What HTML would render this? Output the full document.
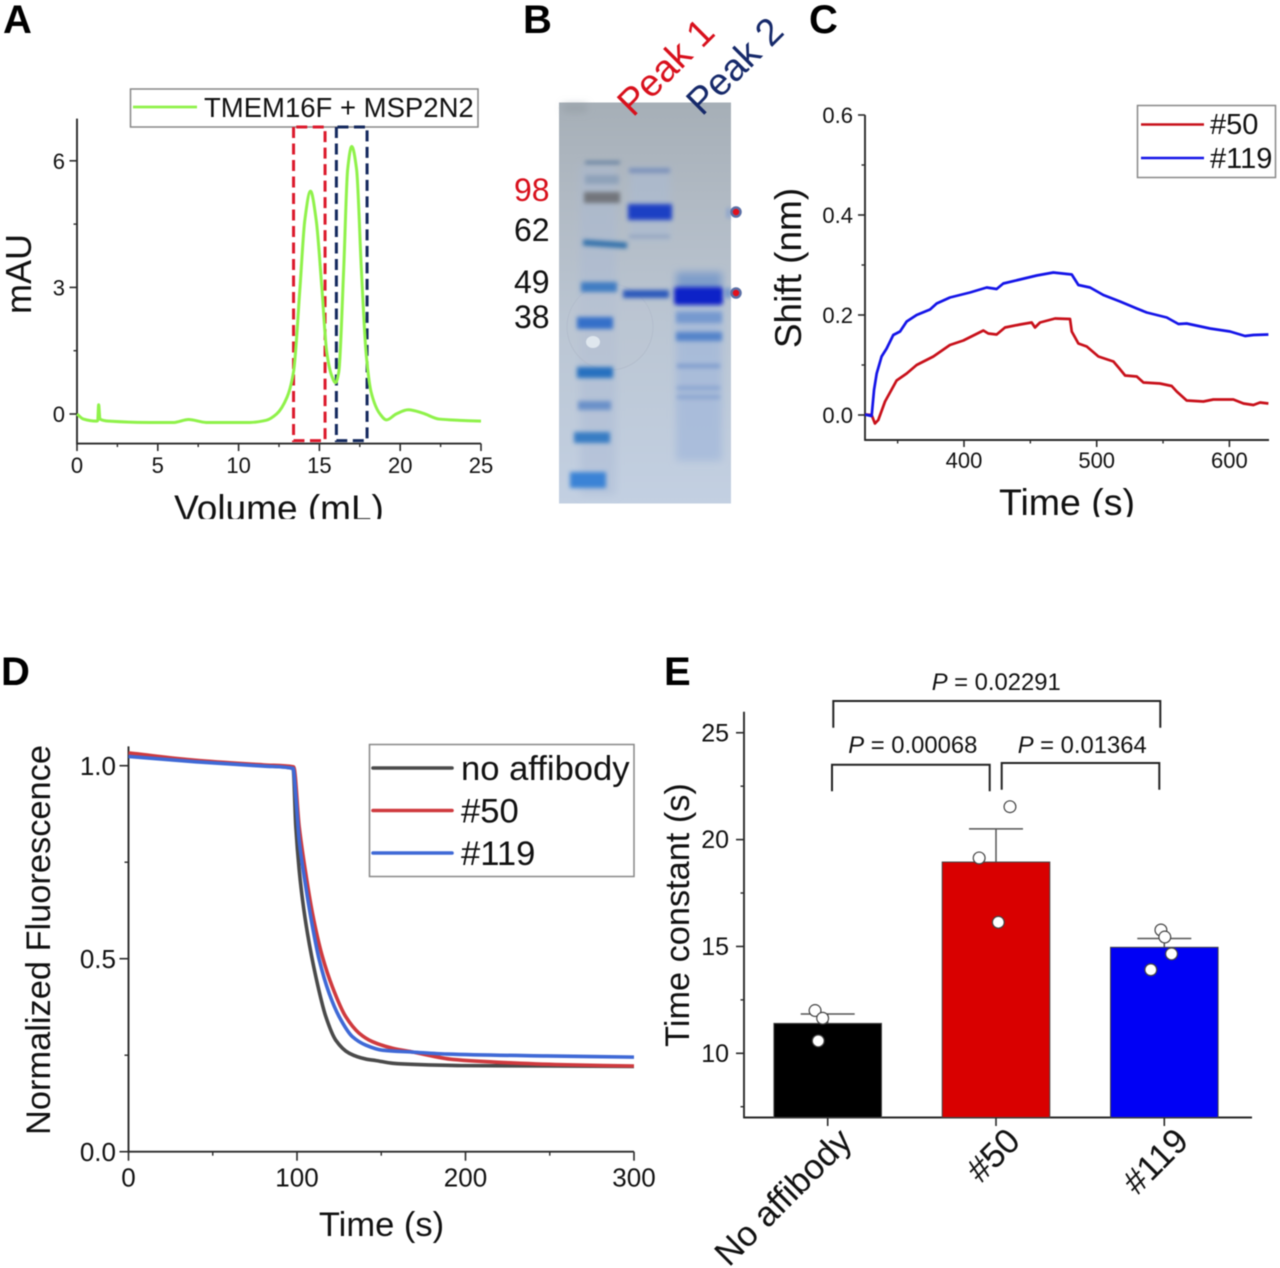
<!DOCTYPE html>
<html lang="en">
<head>
<meta charset="utf-8">
<title>TMEM16F affibody characterisation figure</title>
<style>
html,body{margin:0;padding:0;background:#fff;}
body{width:1280px;height:1268px;overflow:hidden;}
svg{display:block;filter:blur(.4px);}
text{font-family:"Liberation Sans",Arial,sans-serif;fill:#111;}
.panel{font-weight:bold;font-size:40px;fill:#000;}
</style>
</head>
<body>
<svg id="figure" xmlns="http://www.w3.org/2000/svg" width="1280" height="1268" viewBox="0 0 1280 1268">
<defs>
<linearGradient id="gelBg" x1="0" y1="0" x2="0" y2="1">
<stop offset="0" stop-color="#a6afb7"/>
<stop offset=".25" stop-color="#b1bac4"/>
<stop offset=".55" stop-color="#bbc6d3"/>
<stop offset="1" stop-color="#c3d0e2"/>
</linearGradient>
<filter id="soft" x="-20%" y="-150%" width="140%" height="400%"><feGaussianBlur stdDeviation="2"/></filter>
<filter id="softer" x="-20%" y="-50%" width="140%" height="200%"><feGaussianBlur stdDeviation="4"/></filter>
</defs>

<text class="panel" x="3" y="33">A</text>
<text class="panel" x="523" y="33">B</text>
<text class="panel" x="809" y="33">C</text>
<text class="panel" x="1" y="685">D</text>
<text class="panel" x="664" y="685">E</text>

<g id="panelA">
<text font-size="36" text-anchor="middle" transform="translate(31 274) rotate(-90)">mAU</text>
<text font-size="37" text-anchor="middle" x="279" y="521">Volume (mL)</text>
<rect x="150" y="519" width="260" height="14" fill="#fff"/>
<rect x="130.5" y="89" width="347.5" height="38" fill="#fff" stroke="#888" stroke-width="1.5"/>
<line x1="133" y1="107" x2="197" y2="107" stroke="#8ff24a" stroke-width="2.8"/>
<text font-size="27.5" x="204" y="117">TMEM16F + MSP2N2</text>
</g>

<g id="panelB">
<rect x="559" y="102.5" width="172" height="401" fill="url(#gelBg)"/>
<g filter="url(#softer)">
<rect x="676" y="306" width="46" height="155" fill="#9fb6da" opacity=".7"/>
<rect x="630" y="168" width="40" height="72" fill="#a9b9d3" opacity=".55"/>
<rect x="676" y="272" width="46" height="20" fill="#6f93c9" opacity=".8"/>
<rect x="580" y="165" width="36" height="330" fill="#a8b9d2" opacity=".45"/>
<rect x="563" y="104" width="24" height="8" fill="#8d969d" opacity=".5"/>
</g>
<circle cx="610" cy="327" r="43" fill="#bcc6d3" fill-opacity=".45" stroke="#b3bdcc" stroke-width="1"/>
<ellipse cx="593" cy="342" rx="7" ry="6" fill="#dfe7ee"/>
<g filter="url(#soft)">
<rect x="585" y="161" width="35" height="3" fill="#5f7b9d"/>
<rect x="585" y="175" width="34" height="9" fill="#8fa2b9"/>
<rect x="584" y="192" width="36" height="11" fill="#72767c"/>
<rect x="583" y="241" width="44" height="6" fill="#3271ab" transform="rotate(4 605 245)"/>
<rect x="581" y="282" width="36" height="10" fill="#407dc3"/>
<rect x="577" y="317" width="36" height="12" fill="#3470c9"/>
<rect x="577" y="367" width="36" height="11" fill="#2771c0"/>
<rect x="578" y="401" width="33" height="9" fill="#6a91c9"/>
<rect x="574" y="432" width="36" height="11" fill="#397dc4"/>
<rect x="570" y="472" width="36" height="16" fill="#3a83d6"/>
</g>
<g filter="url(#soft)">
<rect x="629" y="168" width="41" height="5" fill="#7b91ba"/>
<rect x="628" y="204" width="44" height="16" fill="#1b40c4"/>
<rect x="629" y="235" width="41" height="3" fill="#90a3c0"/>
<rect x="623" y="290" width="46" height="8" fill="#2c59bb"/>
</g>
<g filter="url(#soft)">
<rect x="674" y="287" width="49" height="18" rx="3" fill="#0c22c8"/>
<rect x="676" y="312" width="46" height="11" fill="#7699cf"/>
<rect x="676" y="332" width="46" height="9" fill="#5584ca"/>
<rect x="677" y="364" width="43" height="4" fill="#7d9bcd"/>
<rect x="677" y="386" width="43" height="4" fill="#8ba6d0"/>
<rect x="677" y="395" width="43" height="4" fill="#8ba6d0"/>
<rect x="726" y="288" width="4" height="10" fill="#5a85ca"/>
<rect x="727" y="208" width="3" height="10" fill="#7d9ad0"/>
</g>
<circle cx="736" cy="212" r="4.5" fill="#e3101c" stroke="#5b70a6" stroke-width="2.5"/>
<circle cx="736" cy="293" r="4.5" fill="#e3101c" stroke="#5b70a6" stroke-width="2.5"/>
<text font-size="32" x="514" y="201" style="fill:#d8101c">98</text>
<text font-size="32" x="514" y="241">62</text>
<text font-size="32" x="514" y="293">49</text>
<text font-size="32" x="514" y="328">38</text>
<text font-size="38" transform="translate(633 118) rotate(-45)" style="fill:#d8101c">Peak 1</text>
<text font-size="38" transform="translate(702 117) rotate(-45)" style="fill:#16296a">Peak 2</text>
</g>

<g id="panelC">
<text font-size="37" text-anchor="middle" transform="translate(801 268) rotate(-90)">Shift (nm)</text>
<text font-size="37.5" text-anchor="middle" x="1067" y="515">Time (s)</text>
<rect x="990" y="517" width="160" height="12" fill="#fff"/>
<rect x="1137.5" y="105.5" width="138" height="72" fill="#fff" stroke="#888" stroke-width="1.5"/>
<line x1="1141" y1="124.5" x2="1204" y2="124.5" stroke="#c8101a" stroke-width="2.4"/>
<text font-size="29" x="1210" y="134">#50</text>
<line x1="1141" y1="158" x2="1204" y2="158" stroke="#1414e8" stroke-width="2.4"/>
<text font-size="29" x="1210" y="168">#119</text>
</g>

<g id="panelD">
<text font-size="34.4" text-anchor="middle" transform="translate(50 940) rotate(-90)">Normalized Fluorescence</text>
<text font-size="34.5" text-anchor="middle" x="381.5" y="1236">Time (s)</text>
</g>

<g id="panelE">
<text font-size="34.3" text-anchor="middle" transform="translate(689 915) rotate(-90)">Time constant (s)</text>
</g>

<script>
const SVG_NS = 'http://www.w3.org/2000/svg';

/* ---------- Panel A data ---------- */
const aVolumes = [0,0.4,1.2,1.28,1.34,1.42,2,4.5,6,6.9,8,10.7,11.7,12.35,13,13.4,13.8,14.1,14.45,14.8,15.15,15.45,15.75,16,16.2,16.5,16.75,17,17.3,17.6,17.9,18.2,18.75,19.15,19.75,20.5,21.4,22.4,23.7,25];
const aAbsorbance = [0,-0.12,-0.17,-0.16,0.22,-0.12,-0.17,-0.2,-0.2,-0.13,-0.2,-0.2,-0.15,0,0.4,1,3,4.6,5.28,4.6,3,1.48,0.92,0.74,1,3.4,5.8,6.34,5.8,3.4,1.4,0.52,0,-0.14,0,0.1,0.02,-0.12,-0.15,-0.17];
const aXTicks = [0,5,10,15,20,25];
const aXMinor = [2.5,7.5,12.5,17.5,22.5];
const aYTicks = [0,3,6];
const aYMinor = [1.5,4.5];
const aPeak1Window = [13.4,15.35];
const aPeak2Window = [16.05,17.95];

/* ---------- Panel C data ---------- */
const c119Times = [325.4,330.4,332.2,334.2,337.9,341.7,346.7,351.8,356.8,364.3,374.4,379.4,389.4,404.5,417.1,424.6,429.6,442.2,454.8,467.3,481.2,486.2,495,505,517.6,530.2,537.7,552.8,561.6,567.8,585.4,600.5,611.8,618.1,629.4];
const c119Shift = [0.001,-0.002,0.05,0.083,0.117,0.133,0.16,0.167,0.187,0.2,0.211,0.223,0.235,0.245,0.255,0.252,0.263,0.271,0.279,0.285,0.281,0.26,0.255,0.24,0.227,0.213,0.205,0.195,0.182,0.183,0.173,0.167,0.158,0.16,0.161];
const c50Times = [325.4,330.4,332.9,335.4,340.5,349.2,356.8,364.3,376.9,389.4,399.5,414.6,418.3,424.6,430.9,442.2,451,453.5,457.3,468.6,479.9,481.2,486.2,492.5,501.3,512.6,517.1,521.4,530.2,535.2,547.7,556.5,560.3,567.8,580.4,587.9,603,610.6,618.1,623.1,629.4];
const c50Shift = [0.001,0,-0.017,-0.01,0.027,0.069,0.083,0.1,0.117,0.14,0.149,0.169,0.163,0.161,0.175,0.181,0.185,0.175,0.185,0.193,0.192,0.167,0.143,0.137,0.117,0.107,0.093,0.079,0.077,0.065,0.063,0.058,0.047,0.029,0.027,0.031,0.031,0.023,0.02,0.025,0.023];
const cXTicks = [400,500,600];
const cXMinor = [350,450,550];
const cYTicks = ['0.0','0.2','0.4','0.6'];
const cYMinor = [0.1,0.3,0.5];

/* ---------- Panel D data ---------- */
const dControlTimes = [0,40,80,97.7,99.3,101.3,103.3,106.2,111.2,117.1,123,131,140.9,147,157,170,198,250,300];
const dControlValues = [1.028,1.012,1,0.993,0.842,0.73,0.652,0.566,0.453,0.35,0.289,0.255,0.24,0.236,0.229,0.226,0.223,0.222,0.221];
const d50Times = [0,40,80,98,101.3,105.2,109.2,115.1,121,128.9,136.9,144.8,156.7,169,192.6,228,260,300];
const d50Values = [1.033,1.014,1.002,0.997,0.842,0.721,0.617,0.505,0.427,0.35,0.307,0.285,0.268,0.258,0.239,0.23,0.225,0.222];
const d119Times = [0,40,80,97.7,99.3,101.3,105.2,109.2,113.2,119.1,125,132.9,140.9,150.7,169,189,248,300];
const d119Values = [1.024,1.01,0.999,0.993,0.92,0.807,0.687,0.583,0.497,0.41,0.35,0.298,0.276,0.263,0.258,0.253,0.248,0.245];
const dXTicks = [0,100,200,300];
const dXMinor = [50,150,250];
const dYTicks = ['0.0','0.5','1.0'];
const dYMinor = [0.25,0.75];
const dLegendNames = ['no affibody','#50','#119'];

/* ---------- Panel E data ---------- */
const eCategories = ['No affibody','#50','#119'];
const eMeans = [11.4,18.95,14.96];
const eErrorTops = [11.84,20.5,15.37];
const eScatter = [[12,11.64,10.58],[21.54,19.14,16.13],[15.77,15.44,14.65,13.91]];
const eScatterJitter = [[-0.075,-0.03,-0.056],[0.083,-0.1,0.014],[-0.02,0.003,0.043,-0.08]];
const eYTicks = [10,15,20,25];
const eYMinor = [7.5,12.5,17.5,22.5];
const eComparisons = ['0.02291','0.00068','0.01364'];

/* ---------- Axis functions ---------- */
const xA = v => 77 + v * (481 - 77) / 25;
const yA = v => 414 - v * 42.2;
const xC = v => 964 + (v - 400) * 1.327;
const yC = v => 415 - v * 500;
const xD = v => 128.5 + v * 1.685;
const yD = v => 1151.7 - v * 386;
const xE = i => 827.7 + i * 168.3;
const yE = v => 1053.3 - (v - 10) * 21.37;

function make(tag, parent, attrs) {
  const el = document.createElementNS(SVG_NS, tag);
  for (const k in attrs) el.setAttribute(k, attrs[k]);
  parent.appendChild(el);
  return el;
}

/* Monotone cubic interpolation: no overshoot at sharp knees or peaks */
function smoothPath(xs, ys, sx, sy) {
  const px = xs.map(sx), py = ys.map(sy), n = px.length;
  const dx = [], slope = [];
  for (let i = 0; i < n - 1; i++) {
    dx.push(px[i + 1] - px[i]);
    slope.push((py[i + 1] - py[i]) / dx[i]);
  }
  const m = [slope[0]];
  for (let i = 1; i < n - 1; i++) {
    if (slope[i - 1] * slope[i] <= 0) { m.push(0); continue; }
    const w1 = 2 * dx[i] + dx[i - 1], w2 = dx[i] + 2 * dx[i - 1];
    m.push((w1 + w2) / (w1 / slope[i - 1] + w2 / slope[i]));
  }
  m.push(slope[n - 2]);
  let d = 'M' + px[0].toFixed(2) + ' ' + py[0].toFixed(2);
  for (let i = 0; i < n - 1; i++) {
    const h = dx[i] / 3;
    d += 'C' + (px[i] + h).toFixed(2) + ' ' + (py[i] + m[i] * h).toFixed(2) + ' ' + (px[i + 1] - h).toFixed(2) + ' ' + (py[i + 1] - m[i + 1] * h).toFixed(2) + ' ' + px[i + 1].toFixed(2) + ' ' + py[i + 1].toFixed(2);
  }
  return d;
}

function linePath(xs, ys, sx, sy) {
  return xs.map((x, i) => (i ? 'L' : 'M') + sx(x).toFixed(2) + ' ' + sy(ys[i]).toFixed(2)).join('');
}

function drawAxes(group, prefix, cfg) {
  const xAxis = make('line', group, {x1: cfg.x0, y1: cfg.y0, x2: cfg.x1, y2: cfg.y0, stroke: '#2a2a2a', 'stroke-width': 1.9});
  
  
  const yAxis = make('line', group, {x1: cfg.x0, y1: cfg.y0 + 0.9, x2: cfg.x0, y2: cfg.y1, stroke: '#2a2a2a', 'stroke-width': 1.9});
  
  
  cfg.xTicks.forEach(v => {
    const px = cfg.sx(Number(v));
    const t = make('line', group, {x1: px, y1: cfg.y0, x2: px, y2: cfg.y0 + cfg.major, stroke: '#2a2a2a', 'stroke-width': 1.6});
    
    
    const l = make('text', group, {x: px, y: cfg.xLabelY, 'font-size': cfg.font, 'text-anchor': 'middle'});
    l.textContent = v;
    
    
  });
  cfg.xMinor.forEach(v => {
    const px = cfg.sx(v);
    const t = make('line', group, {x1: px, y1: cfg.y0, x2: px, y2: cfg.y0 + cfg.minor, stroke: '#2a2a2a', 'stroke-width': 1.4});
    
    
  });
  cfg.yTicks.forEach(v => {
    const py = cfg.sy(Number(v));
    const t = make('line', group, {x1: cfg.x0 - cfg.major, y1: py, x2: cfg.x0, y2: py, stroke: '#2a2a2a', 'stroke-width': 1.6});
    
    
    const l = make('text', group, {x: cfg.yLabelX, y: py + cfg.yLabelDy, 'font-size': cfg.font, 'text-anchor': 'end'});
    l.textContent = v;
    
    
  });
  cfg.yMinor.forEach(v => {
    const py = cfg.sy(v);
    const t = make('line', group, {x1: cfg.x0 - cfg.minor, y1: py, x2: cfg.x0, y2: py, stroke: '#2a2a2a', 'stroke-width': 1.4});
    
    
  });
}

/* ---------- Panel A ---------- */
const gA = document.getElementById('panelA');
drawAxes(gA, 'a', {x0: 77, x1: 481, y0: yA(-0.7), y1: yA(7), sx: xA, sy: yA, xTicks: aXTicks, xMinor: aXMinor, yTicks: aYTicks, yMinor: aYMinor, major: 7.5, minor: 3.5, font: 22, xLabelY: 473, yLabelX: 65, yLabelDy: 8});
const windowTop = 127;
const windowBottom = yA(-0.63);
const win1 = make('path', gA, {d: 'M' + xA(aPeak1Window[0]) + ' ' + windowTop + 'V' + windowBottom + 'H' + xA(aPeak1Window[1]) + 'V' + windowTop + 'H' + xA(aPeak1Window[0]), fill: 'none', stroke: '#dc1a2c', 'stroke-width': 3, 'stroke-dasharray': '11 5.5'});


const win2 = make('path', gA, {d: 'M' + xA(aPeak2Window[0]) + ' ' + windowTop + 'V' + windowBottom + 'H' + xA(aPeak2Window[1]) + 'V' + windowTop + 'H' + xA(aPeak2Window[0]), fill: 'none', stroke: '#14295e', 'stroke-width': 3, 'stroke-dasharray': '11 5.5'});


const aLine = make('path', gA, {d: smoothPath(aVolumes, aAbsorbance, xA, yA), fill: 'none', stroke: '#8ff24a', 'stroke-width': 3, 'stroke-linejoin': 'round'});



/* ---------- Panel C ---------- */
const gC = document.getElementById('panelC');
drawAxes(gC, 'c', {x0: 865, x1: 1269, y0: yC(-0.05), y1: yC(0.6), sx: xC, sy: yC, xTicks: cXTicks, xMinor: cXMinor, yTicks: cYTicks, yMinor: cYMinor, major: 7, minor: 3.5, font: 22, xLabelY: 468, yLabelX: 853, yLabelDy: 8});
const cLine50 = make('path', gC, {d: linePath(c50Times, c50Shift, xC, yC), fill: 'none', stroke: '#c8101a', 'stroke-width': 2.7, 'stroke-linejoin': 'round'});


const cLine119 = make('path', gC, {d: linePath(c119Times, c119Shift, xC, yC), fill: 'none', stroke: '#1414e8', 'stroke-width': 2.7, 'stroke-linejoin': 'round'});



/* ---------- Panel D ---------- */
const gD = document.getElementById('panelD');
drawAxes(gD, 'd', {x0: 128.5, x1: 634, y0: yD(0), y1: yD(1.05), sx: xD, sy: yD, xTicks: dXTicks, xMinor: dXMinor, yTicks: dYTicks, yMinor: dYMinor, major: 9, minor: 4, font: 26, xLabelY: 1186.5, yLabelX: 116, yLabelDy: 9.5});
const dLineControl = make('path', gD, {d: smoothPath(dControlTimes, dControlValues, xD, yD), fill: 'none', stroke: '#4a4a4a', 'stroke-width': 3.6});


const dLine50 = make('path', gD, {d: smoothPath(d50Times, d50Values, xD, yD), fill: 'none', stroke: '#cf3a3e', 'stroke-width': 3.6});


const dLine119 = make('path', gD, {d: smoothPath(d119Times, d119Values, xD, yD), fill: 'none', stroke: '#3f69d6', 'stroke-width': 3.6});


const dLegend = make('rect', gD, {x: 369.5, y: 744.5, width: 264.5, height: 132, fill: '#fff', stroke: '#888', 'stroke-width': 1.5});


const dLegendColors = ['#4a4a4a', '#cf3a3e', '#3f69d6'];
dLegendNames.forEach((name, i) => {
  const row = 768 + i * 42.5;
  const swatch = make('line', gD, {x1: 373, y1: row, x2: 452, y2: row, stroke: dLegendColors[i], 'stroke-width': 3.6, 'stroke-linecap': 'round'});
  
  
  const label = make('text', gD, {x: 461, y: row + 12, 'font-size': 34.6});
  label.textContent = name;
  
  
});

/* ---------- Panel E ---------- */
const gE = document.getElementById('panelE');
drawAxes(gE, 'e', {x0: 744, x1: 1252, y0: 1117.5, y1: 711.7, sx: xE, sy: yE, xTicks: [], xMinor: [], yTicks: eYTicks, yMinor: eYMinor, major: 8, minor: 3.5, font: 25, xLabelY: 0, yLabelX: 729, yLabelDy: 8.5});
const barFill = ['#000000', '#d90000', '#0000f5'];
const barHalf = 53.8;
const capHalf = 27;
eCategories.forEach((name, i) => {
  const cx = xE(i);
  const errLine = make('line', gE, {x1: cx, y1: yE(eMeans[i]), x2: cx, y2: yE(eErrorTops[i]), stroke: '#555', 'stroke-width': 1.5});
  
  
  const errCap = make('line', gE, {x1: cx - capHalf, y1: yE(eErrorTops[i]), x2: cx + capHalf, y2: yE(eErrorTops[i]), stroke: '#555', 'stroke-width': 1.5});
  
  
  const bar = make('rect', gE, {x: cx - barHalf, y: yE(eMeans[i]), width: barHalf * 2, height: 1117.5 - yE(eMeans[i]), fill: barFill[i], stroke: '#444', 'stroke-width': 1});
  
  
  const tick = make('line', gE, {x1: cx, y1: 1117.5, x2: cx, y2: 1126, stroke: '#2a2a2a', 'stroke-width': 1.6});
  
  
  const endX = cx + 26;
  const label = make('text', gE, {'font-size': 35, 'text-anchor': 'end', transform: 'translate(' + endX + ' 1143) rotate(-45)'});
  label.textContent = name;
  
  
  eScatter[i].forEach((v, j) => {
    const dot = make('circle', gE, {cx: xE(i + eScatterJitter[i][j]), cy: yE(v), r: 5.9, fill: '#fff', stroke: '#444', 'stroke-width': 1.2});
    
    
  });
});
const bracketTop = make('path', gE, {d: 'M833.3 727.7V701H1160.3V727.7', fill: 'none', stroke: '#222', 'stroke-width': 2});


const bracketLeft = make('path', gE, {d: 'M832 791.3V764.7H989.7V791.3', fill: 'none', stroke: '#222', 'stroke-width': 2});


const bracketRight = make('path', gE, {d: 'M1001.7 789.7V763H1159.3V789.7', fill: 'none', stroke: '#222', 'stroke-width': 2});


const pAnchors = [[931.7, 690], [848.3, 753], [1017.7, 753]];
eComparisons.forEach((value, i) => {
  const t = make('text', gE, {x: pAnchors[i][0], y: pAnchors[i][1], 'font-size': 23.8});
  const ital = document.createElementNS(SVG_NS, 'tspan');
  ital.setAttribute('font-style', 'italic');
  ital.textContent = 'P';
  t.appendChild(ital);
  t.appendChild(document.createTextNode(' = ' + value));
  
  
});
</script>
</svg>
</body>
</html>
